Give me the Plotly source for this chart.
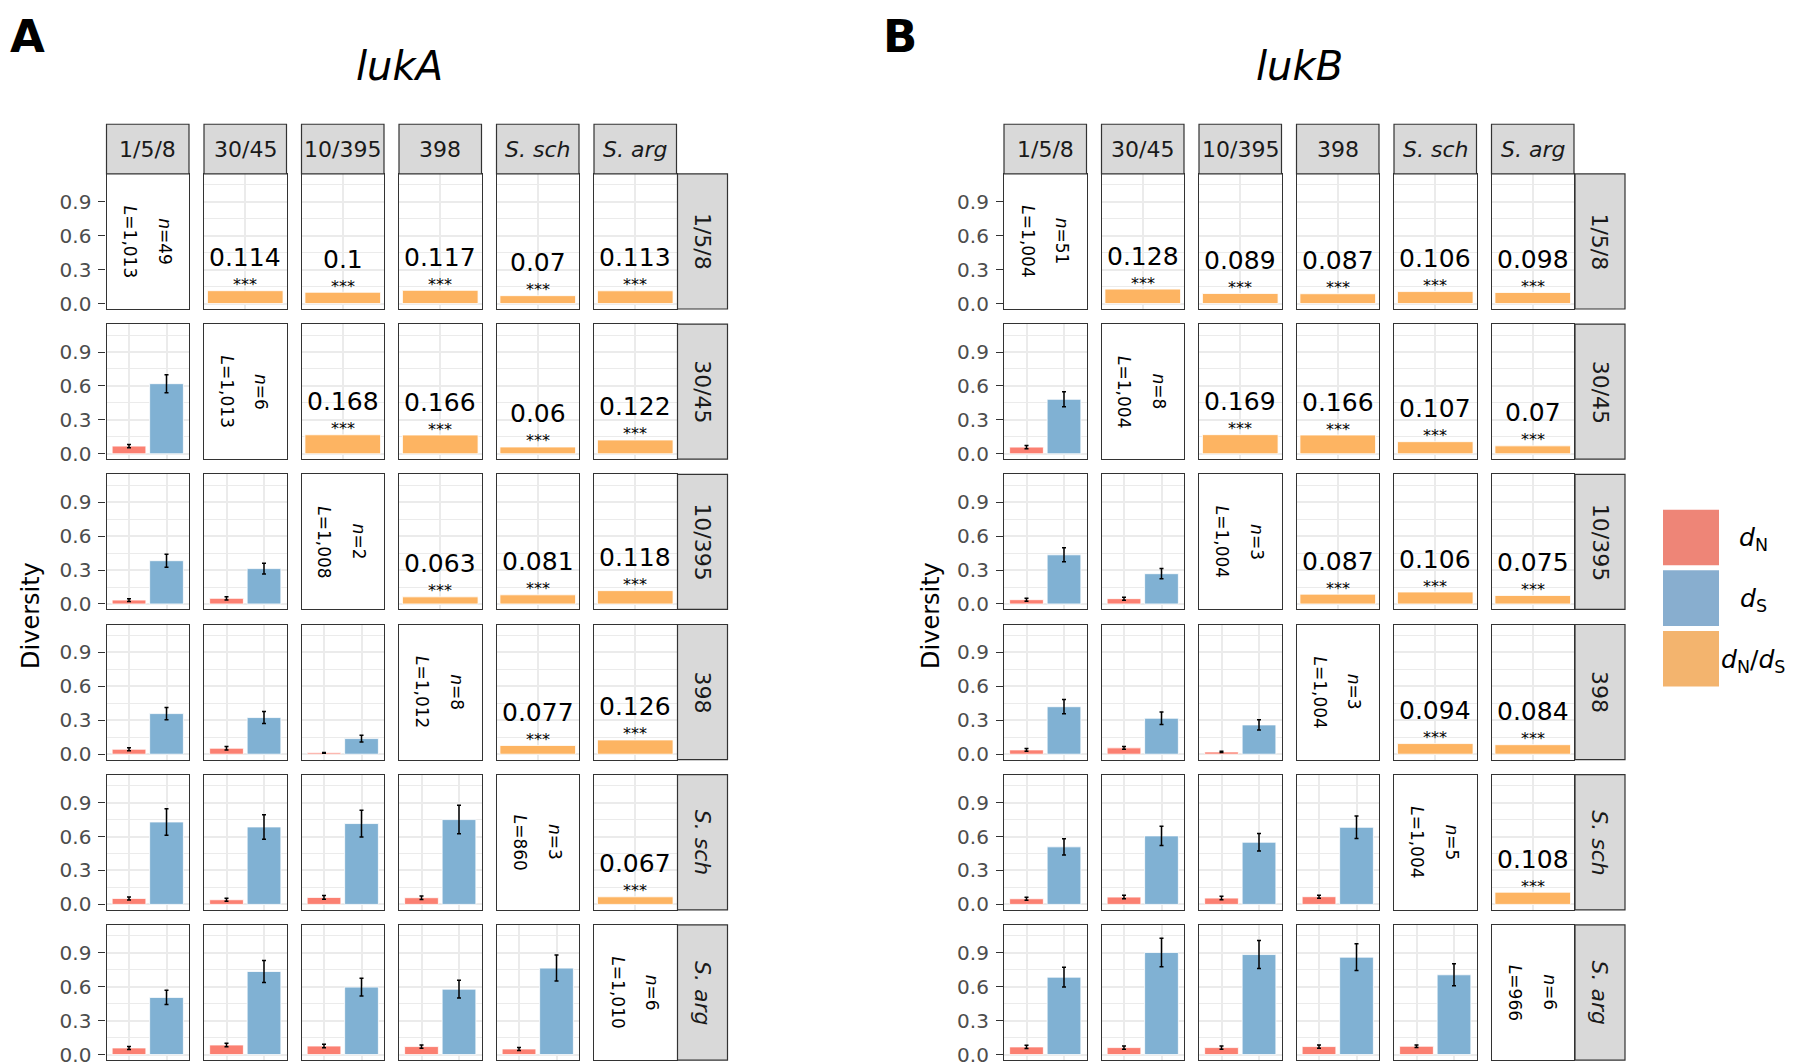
import plotly.graph_objects as go

# --- dane ---
GROUPS = ["1/5/8", "30/45", "10/395", "398", "<i>S. sch</i>", "<i>S. arg</i>"]

# lukA: przekątna (n, L)
LUKA_N = [49, 6, 2, 8, 3, 6]
LUKA_L = ["1,013", "1,013", "1,008", "1,012", "860", "1,010"]
# dN/dS nad przekątną (wiersz r, kolumny r+1..)
LUKA_RATIO = [
    [0.114, 0.1, 0.117, 0.07, 0.113],
    [0.168, 0.166, 0.06, 0.122],
    [0.063, 0.081, 0.118],
    [0.077, 0.126],
    [0.067],
]
# dN, dS pod przekątną (wiersz r+1, kolumny 0..r)
LUKA_DN = [
    [0.068],
    [0.035, 0.050],
    [0.044, 0.053, 0.012],
    [0.053, 0.041, 0.062, 0.059],
    [0.059, 0.085, 0.076, 0.071, 0.050],
]
LUKA_DN_ERR = [
    [0.015],
    [0.012, 0.015],
    [0.013, 0.015, 0.004],
    [0.013, 0.013, 0.016, 0.015],
    [0.013, 0.015, 0.016, 0.015, 0.013],
]
LUKA_DS = [
    [0.62],
    [0.383, 0.313],
    [0.359, 0.324, 0.138],
    [0.729, 0.685, 0.715, 0.75],
    [0.506, 0.735, 0.597, 0.579, 0.765],
]
LUKA_DS_ERR = [
    [0.08],
    [0.057, 0.048],
    [0.055, 0.053, 0.03],
    [0.118, 0.109, 0.118, 0.126],
    [0.063, 0.098, 0.078, 0.078, 0.115],
]

# lukB
LUKB_N = [51, 8, 3, 3, 5, 6]
LUKB_L = ["1,004", "1,004", "1,004", "1,004", "1,004", "966"]
LUKB_RATIO = [
    [0.128, 0.089, 0.087, 0.106, 0.098],
    [0.169, 0.166, 0.107, 0.07],
    [0.087, 0.106, 0.075],
    [0.094, 0.084],
    [0.108],
]
LUKB_DN = [
    [0.059],
    [0.038, 0.047],
    [0.038, 0.056, 0.020],
    [0.050, 0.065, 0.056, 0.068],
    [0.068, 0.062, 0.062, 0.071, 0.074],
]
LUKB_DN_ERR = [
    [0.015],
    [0.013, 0.013],
    [0.013, 0.013, 0.006],
    [0.013, 0.015, 0.015, 0.013],
    [0.015, 0.015, 0.015, 0.015, 0.012],
]
LUKB_DS = [
    [0.482],
    [0.435, 0.268],
    [0.42, 0.318, 0.259],
    [0.509, 0.606, 0.55, 0.682],
    [0.685, 0.903, 0.885, 0.862, 0.706],
]
LUKB_DS_ERR = [
    [0.066],
    [0.062, 0.045],
    [0.063, 0.055, 0.045],
    [0.072, 0.085, 0.078, 0.099],
    [0.088, 0.126, 0.124, 0.118, 0.097],
]

Y_TICKS = [0.0, 0.3, 0.6, 0.9]
Y_MINOR = [0.15, 0.45, 0.75, 1.05]
LEGEND_LABELS = ["<i>d</i><sub>N</sub>", "<i>d</i><sub>S</sub>",
                 "<i>d</i><sub>N</sub>/<i>d</i><sub>S</sub>"]

# --- wygląd ---
W, H = 1800, 1064
FONT = "DejaVu Sans"
RED, BLUE, ORANGE = "#FB8072", "#80B1D3", "#FDB462"
LEG_COLORS = ["#EE8577", "#88AECF", "#F3B46E"]
BORDER = "#333333"
GRID = "#EBEBEB"
STRIP = "#D9D9D9"
Y_RANGE = [-0.048, 1.147]

CELL_W, CELL_H = 82.5, 136
PITCH_X, PITCH_Y = 97.5, 151.2
TOP0 = 167
STRIP_H = 50

PANELS = [
    dict(left=98.5, letter="A", title="lukA", title_x=391, div_x=23,
         n=LUKA_N, L=LUKA_L, ratio=LUKA_RATIO, dn=LUKA_DN, dn_err=LUKA_DN_ERR,
         ds=LUKA_DS, ds_err=LUKA_DS_ERR, letter_x=19),
    dict(left=996, letter="B", title="lukB", title_x=1291, div_x=923,
         n=LUKB_N, L=LUKB_L, ratio=LUKB_RATIO, dn=LUKB_DN, dn_err=LUKB_DN_ERR,
         ds=LUKB_DS, ds_err=LUKB_DS_ERR, letter_x=892),
]


def px(x):
    return x / W


def py(y):
    return 1 - y / H


def paper_text(x, y, text, size, color="black", angle=0, anchor="center"):
    # tekst w pikselach od lewego górnego rogu
    return dict(x=px(x), y=py(y), xref="paper", yref="paper", text=text,
                showarrow=False, xanchor=anchor, yanchor="middle",
                textangle=angle, font=dict(family=FONT, size=size, color=color))


fig = go.Figure()
annotations = []
shapes = []
layout_axes = {}
k = 0

for p in PANELS:
    for r in range(6):
        for c in range(6):
            k += 1
            sfx = "" if k == 1 else str(k)
            x0 = p["left"] + c * PITCH_X
            y0 = TOP0 + r * PITCH_Y
            diag = r == c
            lower = r > c

            if lower:
                xr = [0.4, 2.6]
                xt = [1, 2]
            elif diag:
                xr = [0, 1]
                xt = []
            else:
                xr = [0.4, 1.6]
                xt = [1]

            layout_axes["xaxis" + sfx] = dict(
                domain=[px(x0), px(x0 + CELL_W)], anchor="y" + sfx, range=xr,
                showline=True, mirror=True, linecolor=BORDER, linewidth=1.2,
                showgrid=not diag, gridcolor=GRID, gridwidth=1.6,
                tickmode="array", tickvals=xt, showticklabels=False, ticks="",
                zeroline=False, fixedrange=True,
            )
            layout_axes["yaxis" + sfx] = dict(
                domain=[py(y0 + CELL_H), py(y0)], anchor="x" + sfx, range=Y_RANGE,
                showline=True, mirror=True, linecolor=BORDER, linewidth=1.2,
                showgrid=not diag, gridcolor=GRID, gridwidth=1.6,
                minor=dict(tickmode="array", tickvals=Y_MINOR, showgrid=not diag,
                           gridcolor=GRID, gridwidth=0.8),
                tickmode="array", tickvals=Y_TICKS,
                ticktext=[f"{v:.1f}" for v in Y_TICKS],
                showticklabels=(c == 0), ticks="outside" if c == 0 else "",
                ticklen=7, tickwidth=1.2, tickcolor=BORDER, ticklabelstandoff=3,
                tickfont=dict(family=FONT, size=20, color="#4D4D4D"),
                zeroline=False, fixedrange=True,
            )

            if lower:
                dn = p["dn"][r - 1][c]
                ds = p["ds"][r - 1][c]
                fig.add_trace(go.Bar(
                    x=[1, 2], y=[dn, ds], width=0.9,
                    marker=dict(color=[RED, BLUE],
                                line=dict(color="rgba(255,255,255,0.8)", width=1)),
                    error_y=dict(type="data",
                                 array=[p["dn_err"][r - 1][c], p["ds_err"][r - 1][c]],
                                 color="black", thickness=1.5, width=2),
                    xaxis="x" + sfx, yaxis="y" + sfx, showlegend=False,
                ))
            elif diag:
                ymid = (Y_RANGE[0] + Y_RANGE[1]) / 2
                for xpos, txt in [(0.28, f"<i>L</i>={p['L'][r]}"),
                                  (0.70, f"<i>n</i>={p['n'][r]}")]:
                    annotations.append(dict(
                        x=xpos, y=ymid, xref="x" + sfx, yref="y" + sfx,
                        xanchor="center", yanchor="middle",
                        text=txt, showarrow=False, textangle=90,
                        font=dict(family=FONT, size=17, color="black")))
            else:
                val = p["ratio"][r][c - r - 1]
                fig.add_trace(go.Bar(
                    x=[1], y=[val], width=1.1,
                    marker=dict(color=ORANGE,
                                line=dict(color="rgba(255,255,255,0.8)", width=1)),
                    xaxis="x" + sfx, yaxis="y" + sfx, showlegend=False,
                ))
                annotations.append(dict(
                    x=1, y=val, xref="x" + sfx, yref="y" + sfx,
                    xanchor="center", yanchor="middle",
                    yshift=6, text="***", showarrow=False,
                    font=dict(family=FONT, size=16, color="black")))
                annotations.append(dict(
                    x=1, y=val, xref="x" + sfx, yref="y" + sfx,
                    xanchor="center", yanchor="middle",
                    yshift=33, text=f"{val:g}", showarrow=False,
                    font=dict(family=FONT, size=25, color="black")))

    # paski z nazwami grup (góra i prawa strona)
    for i, g in enumerate(GROUPS):
        x0 = p["left"] + i * PITCH_X
        shapes.append(dict(type="rect", xref="paper", yref="paper",
                           x0=px(x0), x1=px(x0 + CELL_W),
                           y0=py(TOP0), y1=py(TOP0 - STRIP_H),
                           fillcolor=STRIP, line=dict(color=BORDER, width=1.2)))
        annotations.append(paper_text(x0 + CELL_W / 2, TOP0 - STRIP_H / 2, g, 22,
                                      "#1A1A1A"))
        sx0 = p["left"] + 5 * PITCH_X + CELL_W + 1
        y0 = TOP0 + i * PITCH_Y
        shapes.append(dict(type="rect", xref="paper", yref="paper",
                           x0=px(sx0), x1=px(sx0 + STRIP_H),
                           y0=py(y0 + CELL_H), y1=py(y0),
                           fillcolor=STRIP, line=dict(color=BORDER, width=1.2)))
        annotations.append(paper_text(sx0 + STRIP_H / 2, y0 + CELL_H / 2, g, 22,
                                      "#1A1A1A", angle=90))

    annotations.append(paper_text(p["letter_x"], 29, f"<b>{p['letter']}</b>", 45))
    annotations.append(paper_text(p["title_x"], 58, f"<i>{p['title']}</i>", 40))
    annotations.append(paper_text(p["div_x"], 612, "Diversity", 24, angle=-90))

# legenda
for i, (lab, col) in enumerate(zip(LEGEND_LABELS, LEG_COLORS)):
    y0 = 505 + i * 61
    shapes.append(dict(type="rect", xref="paper", yref="paper",
                       x0=px(1655), x1=px(1711), y0=py(y0 + 56), y1=py(y0),
                       fillcolor=col, line=dict(width=0)))
    annotations.append(paper_text(1745, y0 + 30, lab, 25))

fig.update_layout(
    width=W, height=H,
    margin=dict(l=0, r=0, t=0, b=0),
    paper_bgcolor="white", plot_bgcolor="white",
    barmode="overlay", showlegend=False,
    annotations=annotations, shapes=shapes,
    **layout_axes,
)

fig.write_html("out.html")
